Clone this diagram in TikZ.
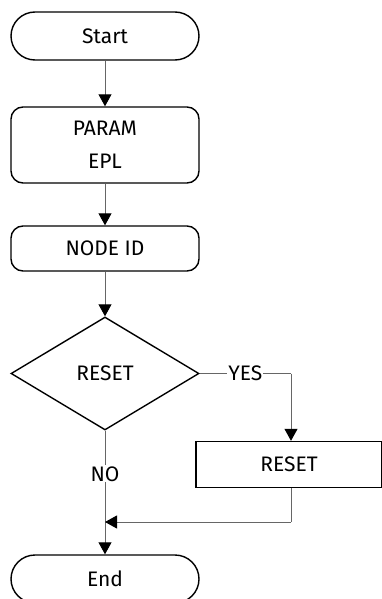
\documentclass[tikz,border=0pt]{standalone}
\usepackage{fontspec}
\setmainfont{Fira Sans}
\usetikzlibrary{shapes.geometric,arrows.meta}
\begin{document}
\begin{tikzpicture}[x=1pt,y=-1pt,
  every node/.style={font=\fontsize{21}{25}\selectfont},
  term/.style={draw=black,line width=1.4pt,rounded corners=24pt,minimum width=188pt,minimum height=48pt,inner sep=0pt},
  proc/.style={draw=black,line width=1.4pt,rounded corners=12pt,minimum width=188pt,inner sep=0pt,align=center},
  dec/.style={draw=black,line width=1.4pt,diamond,minimum width=188pt,minimum height=113pt,inner sep=0pt},
  plain/.style={draw=black,line width=1.4pt,minimum width=186pt,minimum height=46pt,inner sep=0pt},
  conn/.style={draw=black!60,line width=1pt},
  arr/.style={conn,-{Triangle[length=12pt,width=13pt,fill=black,color=black]}},
  lbl/.style={fill=white,inner sep=1pt,font=\fontsize{21}{25}\selectfont}]
\useasboundingbox (0,0) rectangle (381,599);
\node[term] (start) at (105,36) {Start};
\node[proc,minimum height=76pt] (param) at (105,145) {PARAM\\[8pt]EPL};
\node[proc,minimum height=45pt] (nodeid) at (105,248.5) {NODE ID};
\node[dec] (dec) at (105,373.5) {RESET};
\node[plain] (reset) at (289,464.5) {RESET};
\node[term] (end) at (105,579) {End};
\coordinate (yc) at (291,373.5);
\coordinate (rb) at (291,522);
\coordinate (mj) at (105,522);
\draw[arr] (start) -- (param);
\draw[arr] (param) -- (nodeid);
\draw[arr] (nodeid) -- (dec);
\draw[conn] (dec.east) -- node[lbl]{YES} (yc);
\draw[arr] (yc) -- (yc |- reset.north);
\draw[arr] (dec.south) -- node[lbl,pos=0.35]{NO} (end.north);
\draw[conn] (rb |- reset.south) -- (rb);
\draw[arr] (rb) -- (mj);
\end{tikzpicture}
\end{document}
